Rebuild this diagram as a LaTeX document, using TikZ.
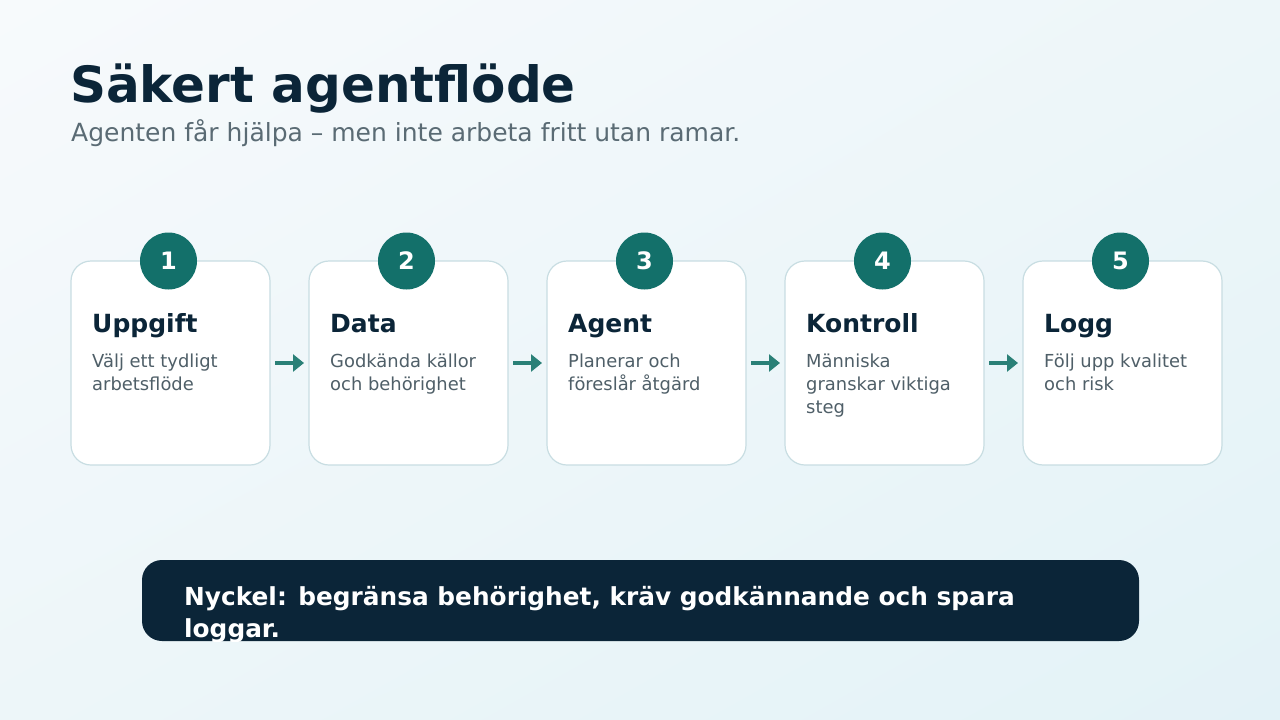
\documentclass[tikz,border=0pt]{standalone}
\usepackage{fontspec}
\setmainfont{DejaVu Sans}
\usetikzlibrary{arrows.meta,shadings}
\definecolor{navy}{HTML}{0B2538}
\definecolor{teal1}{HTML}{13706A}
\definecolor{arrowc}{HTML}{2A8077}
\definecolor{boxline}{HTML}{C8DDE2}
\definecolor{subc}{HTML}{5A6B74}
\definecolor{descc}{HTML}{4F5F68}
\definecolor{bgA}{HTML}{F7FAFC}
\definecolor{bgB}{HTML}{E3F2F7}
\definecolor{bgM}{HTML}{EDF6F9}
\tikzset{
  card/.style={draw=boxline, line width=1.2pt, fill=white, rounded corners=20pt},
  badge/.style={circle, fill=teal1, minimum size=57pt, inner sep=0pt, text=white, font=\fontsize{24}{28}\selectfont\bfseries},
  cardtitle/.style={anchor=base west, inner sep=0pt, text=navy, font=\fontsize{25}{30}\selectfont\bfseries},
  carddesc/.style={anchor=base west, inner sep=0pt, text=descc, align=left, font=\fontsize{17.9}{23}\selectfont},
  flow/.style={draw=arrowc, line width=3.5pt, -{Triangle[length=11pt,width=17pt]}}
}
\begin{document}
\begin{tikzpicture}[x=1pt,y=-1pt]
\shade[upper left=bgA, lower right=bgB, upper right=bgM, lower left=bgM] (0,0) rectangle (1280,720);
\useasboundingbox (0,0) rectangle (1280,720);
\node[anchor=base west, inner sep=0pt, text=navy, font=\fontsize{50}{60}\selectfont\bfseries] (title) at (70,102) {Säkert agentflöde};
\node[anchor=base west, inner sep=0pt, text=subc, font=\fontsize{25}{30}\selectfont] (sub) at (71,141) {Agenten får hjälpa – men inte arbeta fritt utan ramar.};
\foreach \i/\t/\n/\d in {1/Uppgift/2/{Välj ett tydligt\\arbetsflöde},2/Data/2/{Godkända källor\\och behörighet},3/Agent/2/{Planerar och\\föreslår åtgärd},4/Kontroll/3/{Människa\\granskar viktiga\\steg},5/Logg/2/{Följ upp kvalitet\\och risk}}{
  \pgfmathsetmacro{\xl}{71+238*(\i-1)}
  \pgfmathsetmacro{\yb}{367+23*(\n-1)}
  \draw[card] (\xl,261) rectangle ++(199,204);
  \coordinate (c\i) at (\xl+97.5,261);
  \coordinate (l\i) at (\xl,363);
  \coordinate (r\i) at (\xl+199,363);
  \node[badge] (n\i) at (c\i) {\i};
  \node[cardtitle] (t\i) at (\xl+21,332) {\t};
  \node[carddesc] (d\i) at (\xl+21,\yb) {\d};
}
\foreach \a/\b in {1/2,2/3,3/4,4/5}{
  \draw[flow] ([xshift=5pt]r\a) -- ([xshift=-5pt]l\b);
}
\fill[navy, rounded corners=20pt] (142,560) rectangle (1139,641);
\begin{scope}
\clip (142,560) rectangle (1139,641);
\node[anchor=base west, inner sep=0pt, text=white, align=left, font=\fontsize{24.8}{32}\selectfont\bfseries] (key) at (184,637) {Nyckel: begränsa behörighet, kräv godkännande och spara\\loggar.};
\end{scope}
\end{tikzpicture}
\end{document}
